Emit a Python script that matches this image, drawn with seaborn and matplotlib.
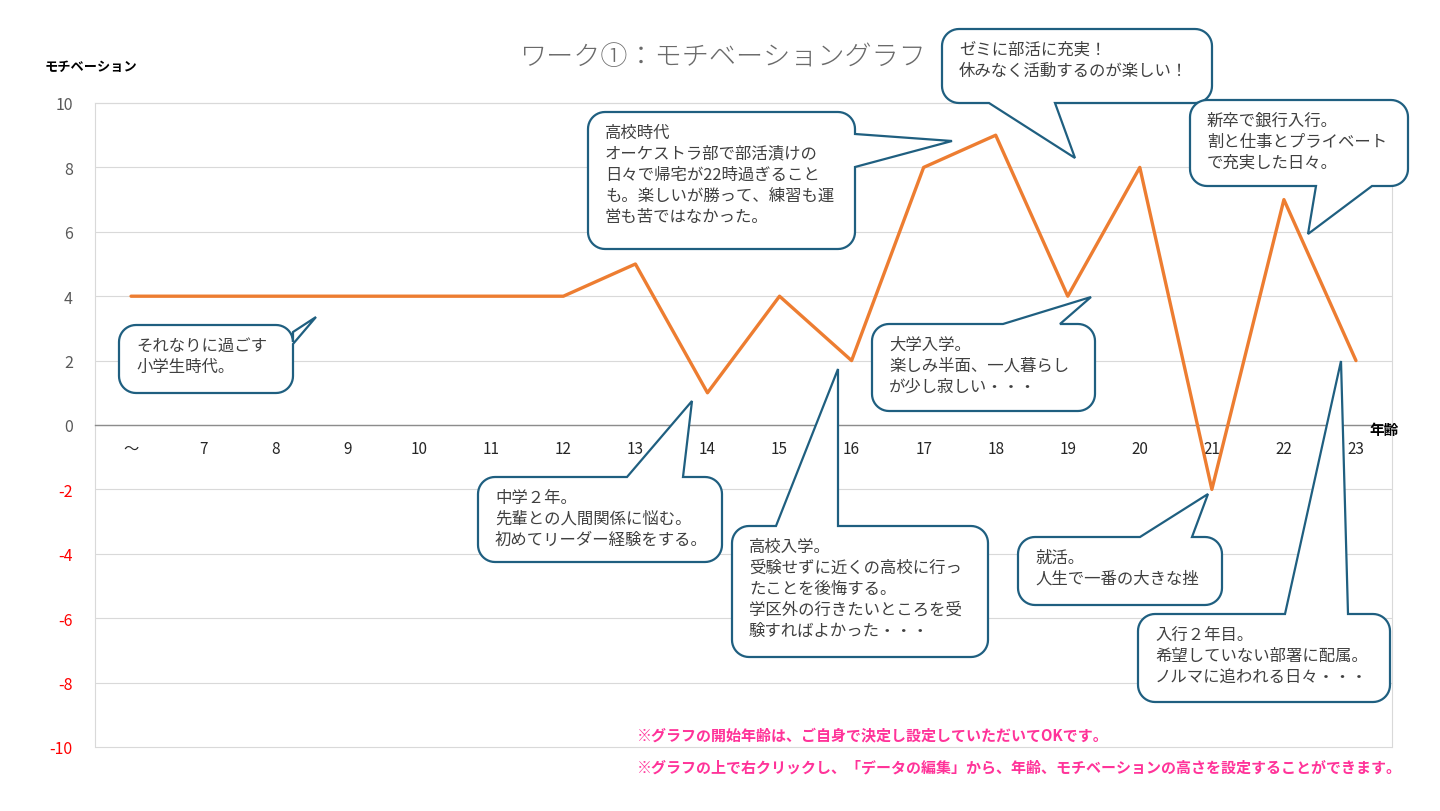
import numpy as np
import pandas as pd
import matplotlib
matplotlib.use('Agg')
import matplotlib.pyplot as plt
from matplotlib.patches import Polygon
import seaborn as sns

# ---- data ----
ages = ['～', '7', '8', '9', '10', '11', '12', '13', '14', '15',
        '16', '17', '18', '19', '20', '21', '22', '23']
motivation = [4, 4, 4, 4, 4, 4, 4, 5, 1, 4, 2, 8, 9, 4, 8, -2, 7, 2]
y_ticks = list(range(-10, 11, 2))

title = 'ワーク①：モチベーショングラフ'
y_title = 'モチベーション'
x_title = '年齢'
notes = ['※グラフの開始年齢は、ご自身で決定し設定していただいてOKです。',
         '※グラフの上で右クリックし、「データの編集」から、年齢、モチベーションの高さを設定することができます。']

# callouts: text, box (x0, y0, x1, y1) in pixels, side of tail, tail base, tail tip
callouts = [
    ('それなりに過ごす\n小学生時代。', (119, 326, 293, 394), 'right', (333, 345), (316, 318)),
    ('中学２年。\n先輩との人間関係に悩む。\n初めてリーダー経験をする。', (478, 478, 722, 563), 'top', (627, 683), (692, 402)),
    ('高校時代\nオーケストラ部で部活漬けの\n日々で帰宅が22時過ぎること\nも。楽しいが勝って、練習も運\n営も苦ではなかった。',
     (588, 113, 855, 250), 'right', (135, 168), (952, 142)),
    ('高校入学。\n受験せずに近くの高校に行っ\nたことを後悔する。\n学区外の行きたいところを受\n験すればよかった・・・',
     (732, 527, 988, 658), 'top', (776, 838), (838, 370)),
    ('ゼミに部活に充実！\n休みなく活動するのが楽しい！', (942, 30, 1212, 104), 'bottom', (989, 1055), (1075, 159)),
    ('大学入学。\n楽しみ半面、一人暮らし\nが少し寂しい・・・', (872, 325, 1095, 412), 'top', (1003, 1060), (1091, 298)),
    ('就活。\n人生で一番の大きな挫', (1018, 538, 1222, 606), 'top', (1140, 1192), (1208, 495)),
    ('新卒で銀行入行。\n割と仕事とプライベート\nで充実した日々。', (1190, 101, 1408, 187), 'bottom', (1316, 1372), (1308, 235)),
    ('入行２年目。\n希望していない部署に配属。\nノルマに追われる日々・・・', (1138, 615, 1390, 703), 'top', (1285, 1348), (1341, 362)),
]

sns.set_theme(style='white')
plt.rcParams['font.family'] = ['Noto Sans CJK JP', 'DejaVu Sans']


def bubble(ax, box, side, base, tip, r=17):
    x0, y0, x1, y1 = box
    b0, b1 = base

    def arc(cx, cy, a0, a1):
        t = np.radians(np.linspace(a0, a1, 12))
        return list(zip(cx + r * np.cos(t), cy + r * np.sin(t)))

    pts = []
    pts += arc(x0 + r, y0 + r, 180, 270)
    if side == 'top':
        pts += [(b0, y0), tip, (b1, y0)]
    pts += arc(x1 - r, y0 + r, 270, 360)
    if side == 'right':
        pts += [(x1, b0), tip, (x1, b1)]
    pts += arc(x1 - r, y1 - r, 0, 90)
    if side == 'bottom':
        pts += [(b1, y1), tip, (b0, y1)]
    pts += arc(x0 + r, y1 - r, 90, 180)
    if side == 'left':
        pts += [(x0, b1), tip, (x0, b0)]
    ax.add_patch(Polygon(pts, closed=True, facecolor='white', edgecolor='#1f5f80',
                         linewidth=1.6, joinstyle='miter'))


df = pd.DataFrame({'age': ages, 'pos': np.arange(len(ages)), 'motivation': motivation})

fig = plt.figure(figsize=(14.4, 8.12), dpi=100)
ax = fig.add_axes([95 / 1440, 1 - 748 / 812, (1392 - 95) / 1440, (748 - 104) / 812])
sns.lineplot(data=df, x='pos', y='motivation', ax=ax, color='#ED7D31',
             linewidth=2.4, sort=False, zorder=3)
ax.set_xlim(-0.5, len(ages) - 0.5)
ax.set_ylim(-10, 10)
ax.set_yticks(y_ticks)
ax.set_yticklabels([str(v) for v in y_ticks], fontsize=11.5)
for lab, v in zip(ax.get_yticklabels(), y_ticks):
    lab.set_color('#ff0000' if v < 0 else '#595959')
ax.set_xticks(df['pos'])
ax.set_xticklabels(ages, fontsize=12, color='#595959')
ax.tick_params(axis='y', length=0, pad=16)
ax.tick_params(axis='x', length=0, pad=11)
ax.yaxis.grid(True, color='#d9d9d9', linewidth=0.8)
for gl in ax.get_ygridlines():
    gl.set_clip_on(False)
ax.xaxis.grid(False)
ax.set_xlabel('')
ax.set_ylabel('')
for s in ['left', 'right', 'top']:
    ax.spines[s].set_color('#d9d9d9')
    ax.spines[s].set_linewidth(0.8)
ax.spines['bottom'].set_position(('data', 0))
ax.spines['bottom'].set_color('#8c8c8c')
ax.spines['bottom'].set_linewidth(1.0)

# overlay in pixel coordinates for titles and callouts
ov = fig.add_axes([0, 0, 1, 1], zorder=5)
ov.set_xlim(0, 1440)
ov.set_ylim(812, 0)
ov.axis('off')

ov.text(722, 57, title, ha='center', va='center', fontsize=19.5, color='#6a6a6a',
        fontweight='light')
ov.text(45, 67, y_title, ha='left', va='center', fontsize=9.5, fontweight='bold', color='black')
ov.text(1369, 430, x_title, ha='left', va='center', fontsize=10.5, fontweight='bold', color='black')

for text, box, side, base, tip in callouts:
    bubble(ov, box, side, base, tip)
    ov.text(box[0] + 17, box[1] + 12, text, ha='left', va='top', fontsize=11.8,
            color='#404040', linespacing=1.3)

ov.text(637, 735, notes[0], ha='left', va='center', fontsize=10.8,
        fontweight='bold', color='#ff3399')
ov.text(637, 767, notes[1], ha='left', va='center', fontsize=10.8,
        fontweight='bold', color='#ff3399')

fig.savefig('out.png', dpi=100)
